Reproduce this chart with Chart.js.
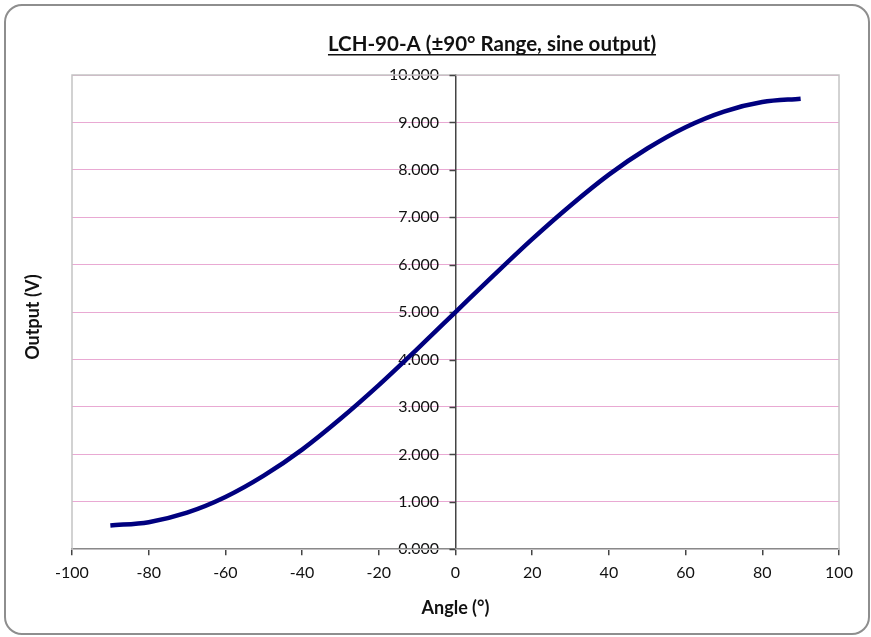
<!DOCTYPE html>
<html>
<head>
<meta charset="utf-8">
<script src="https://cdn.jsdelivr.net/npm/chart.js@4/dist/chart.umd.min.js"></script>
<style>
  body { margin: 0; background: #fff; }
  #wrap { position: relative; width: 871px; height: 637px; }
  #frame {
    position: absolute; left: 4px; top: 4px; width: 866px; height: 631px;
    box-sizing: border-box; border: 2px solid #8e8e8e; border-radius: 18px;
  }
  #chart { position: absolute; left: 0; top: 0; }
</style>
</head>
<body>
<div id="wrap">
  <div id="frame"></div>
  <canvas id="chart" width="871" height="637"></canvas>
</div>
<script>
// Data
const angles = [-90, -80, -70, -60, -50, -40, -30, -20, -10, 0, 10, 20, 30, 40, 50, 60, 70, 80, 90];
const outputs = [0.50, 0.57, 0.77, 1.10, 1.55, 2.10, 2.75, 3.46, 4.22, 5.00, 5.78, 6.54, 7.25, 7.90, 8.45, 8.90, 9.23, 9.43, 9.50];

const xTicks = [-100, -80, -60, -40, -20, 0, 20, 40, 60, 80, 100];
const yTicks = [0, 1, 2, 3, 4, 5, 6, 7, 8, 9, 10];

const chartTitle = 'LCH-90-A (±90° Range, sine output)';
const xTitle = 'Angle (°)';
const yTitle = 'Output (V)';

const FONT = 'Lato, "Open Sans", sans-serif';

// Plot border, y tick marks, title with underline and rotated y title
const decorations = {
    id: 'decorations',
    beforeDatasetsDraw(chart) {
        const { ctx, chartArea, scales } = chart;
        ctx.save();
        ctx.strokeStyle = '#c4c4c4';
        ctx.lineWidth = 1.5;
        ctx.strokeRect(chartArea.left, chartArea.top, chartArea.right - chartArea.left, chartArea.bottom - chartArea.top);

        // y tick marks to the left of the centred axis
        const ax = scales.x.getPixelForValue(0);
        ctx.strokeStyle = '#444';
        ctx.lineWidth = 1.5;
        ctx.beginPath();
        scales.y.ticks.forEach(t => {
            const py = Math.round(scales.y.getPixelForValue(t.value)) + 0.5;
            ctx.moveTo(ax - 6, py);
            ctx.lineTo(ax, py);
        });
        ctx.stroke();
        ctx.restore();
    },
    afterDraw(chart) {
        const { ctx, chartArea } = chart;
        ctx.save();
        ctx.fillStyle = '#111';
        ctx.font = 'bold 20.5px ' + FONT;
        ctx.textAlign = 'center';
        ctx.textBaseline = 'alphabetic';
        const tx = 492, ty = 51;
        ctx.fillText(chartTitle, tx, ty);
        const w = ctx.measureText(chartTitle).width;
        ctx.fillRect(tx - w / 2, ty + 3, w, 1.5);

        ctx.translate(33, (chartArea.top + chartArea.bottom) / 2 + 5);
        ctx.rotate(-Math.PI / 2);
        ctx.font = 'bold 18px ' + FONT;
        ctx.textBaseline = 'middle';
        ctx.fillText(yTitle, 0, 0);
        ctx.restore();
    }
};

const ctx = document.getElementById('chart').getContext('2d');
const chart = new Chart(ctx, {
    type: 'scatter',
    data: {
        datasets: [{
            data: angles.map((a, i) => ({ x: a, y: outputs[i] })),
            showLine: true,
            borderColor: '#00007f',
            borderWidth: 4.5,
            pointRadius: 0,
            cubicInterpolationMode: 'monotone',
            clip: false
        }]
    },
    options: {
        responsive: false,
        animation: false,
        layout: { padding: { left: 72, right: 32, top: 75, bottom: 18 } },
        plugins: {
            legend: { display: false },
            tooltip: { enabled: false }
        },
        scales: {
            x: {
                type: 'linear',
                position: 'bottom',
                min: -100,
                max: 100,
                afterBuildTicks: (scale) => { scale.ticks = xTicks.map(v => ({ value: v })); },
                grid: { drawOnChartArea: false, tickColor: '#444', tickLength: 6, lineWidth: 1.5 },
                border: { color: '#444', width: 1.5 },
                ticks: { color: '#111', font: { family: FONT, size: 16 }, padding: 8 },
                title: {
                    display: true,
                    text: xTitle,
                    color: '#111',
                    font: { family: FONT, size: 18, weight: 'bold' },
                    padding: { top: 7, bottom: 0 }
                }
            },
            y: {
                type: 'linear',
                position: { x: 0 },
                min: 0,
                max: 10,
                afterBuildTicks: (scale) => { scale.ticks = yTicks.map(v => ({ value: v })); },
                grid: { color: '#e9a9d3', drawTicks: false, lineWidth: 1 },
                border: { color: '#444', width: 1.5 },
                ticks: {
                    color: '#111',
                    font: { family: FONT, size: 16 },
                    // trailing spaces keep the labels clear of the centred axis
                    callback: (v) => v.toFixed(3) + '    '
                }
            }
        }
    },
    plugins: [decorations]
});
</script>
</body>
</html>
